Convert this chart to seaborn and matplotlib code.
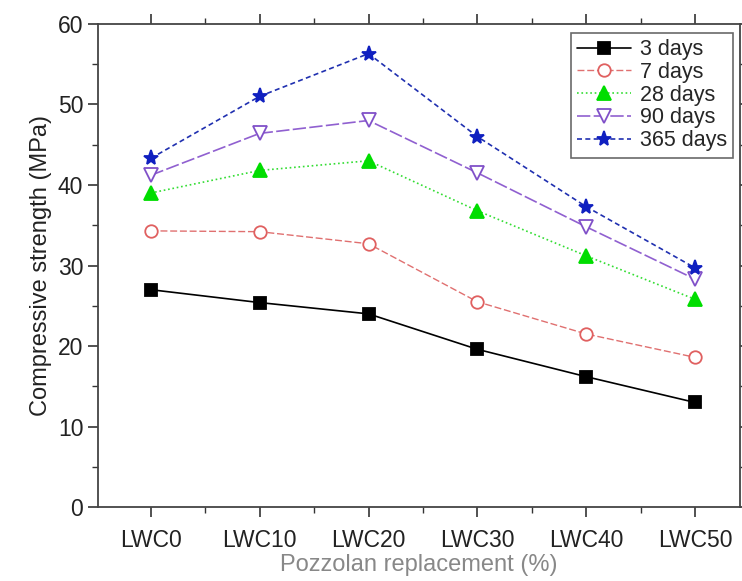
import pandas as pd
import matplotlib.pyplot as plt
import seaborn as sns
from matplotlib.ticker import MultipleLocator, AutoMinorLocator

mixes = ['LWC0', 'LWC10', 'LWC20', 'LWC30', 'LWC40', 'LWC50']
days_3 = [27.0, 25.4, 24.0, 19.6, 16.2, 13.0]
days_7 = [34.3, 34.2, 32.7, 25.5, 21.5, 18.6]
days_28 = [39.0, 41.8, 43.0, 36.8, 31.2, 25.8]
days_90 = [41.2, 46.4, 48.0, 41.5, 34.8, 28.3]
days_365 = [43.3, 51.0, 56.3, 46.0, 37.3, 29.7]

series = [
    ('3 days', days_3, dict(color='black', marker='s', linestyle='-', mfc='black', mec='black', ms=8)),
    ('7 days', days_7, dict(color='#e07070', marker='o', linestyle=(0, (5, 2)), mfc='white', mec='#e06060', ms=9, lw=1.0)),
    ('28 days', days_28, dict(color='#33dd33', marker='^', linestyle=':', mfc='#00dd00', mec='#00dd00', ms=10)),
    ('90 days', days_90, dict(color='#9060d0', marker='v', linestyle=(0, (8, 2)), mfc='white', mec='#8050c8', ms=10)),
    ('365 days', days_365, dict(color='#2030b0', marker='*', linestyle=(0, (3, 2)), mfc='#1020c0', mec='#1020c0', ms=11)),
]

sns.set_style('ticks')
plt.rcParams['font.family'] = ['Liberation Sans', 'DejaVu Sans']

fig = plt.figure(figsize=(7.42, 5.81), dpi=100)
ax = fig.add_axes([0.132, 0.127, 0.865, 0.832])

x = list(range(len(mixes)))
for name, vals, st in series:
    df = pd.DataFrame({'mix': x, 'strength': vals})
    sns.lineplot(data=df, x='mix', y='strength', ax=ax, label=name,
                 color=st['color'], marker=st['marker'], markersize=st['ms'],
                 markerfacecolor=st['mfc'], markeredgecolor=st['mec'],
                 markeredgewidth=1.3, linewidth=st.get('lw', 1.2))
    ax.lines[-1].set_linestyle(st['linestyle'])

ax.set_xlim(-0.485, 5.41)
ax.set_ylim(0, 60)
ax.set_xticks(x)
ax.set_xticklabels(mixes)
ax.xaxis.set_minor_locator(MultipleLocator(0.5))
ax.yaxis.set_major_locator(MultipleLocator(10))
ax.yaxis.set_minor_locator(AutoMinorLocator(2))

ax.tick_params(axis='both', which='major', labelsize=16.5, length=7, width=1.2, colors='#333333')
ax.tick_params(axis='both', which='minor', length=4, width=1.0, colors='#333333')
ax.tick_params(axis='x', which='both', bottom=True, top=True, direction='out')
ax.tick_params(axis='x', which='major', pad=9)
ax.tick_params(axis='y', which='both', right=True)
for lab in ax.get_xticklabels() + ax.get_yticklabels():
    lab.set_color('#222222')
for s in ax.spines.values():
    s.set_linewidth(1.3)
    s.set_color('#444444')

ax.set_xlabel('Pozzolan replacement (%)', fontsize=17, color='#888888', labelpad=1)
ax.set_ylabel('Compressive strength (MPa)', fontsize=17, color='#222222', labelpad=4)

leg = ax.legend(loc='upper right', fontsize=15.5, frameon=True, fancybox=False,
                edgecolor='#444444', handlelength=2.5, borderpad=0.3,
                labelspacing=0.08, handletextpad=0.4, borderaxespad=0.3,
                bbox_to_anchor=(1.0, 0.995))
leg.get_frame().set_linewidth(1.2)

fig.savefig('out.png', dpi=100)
